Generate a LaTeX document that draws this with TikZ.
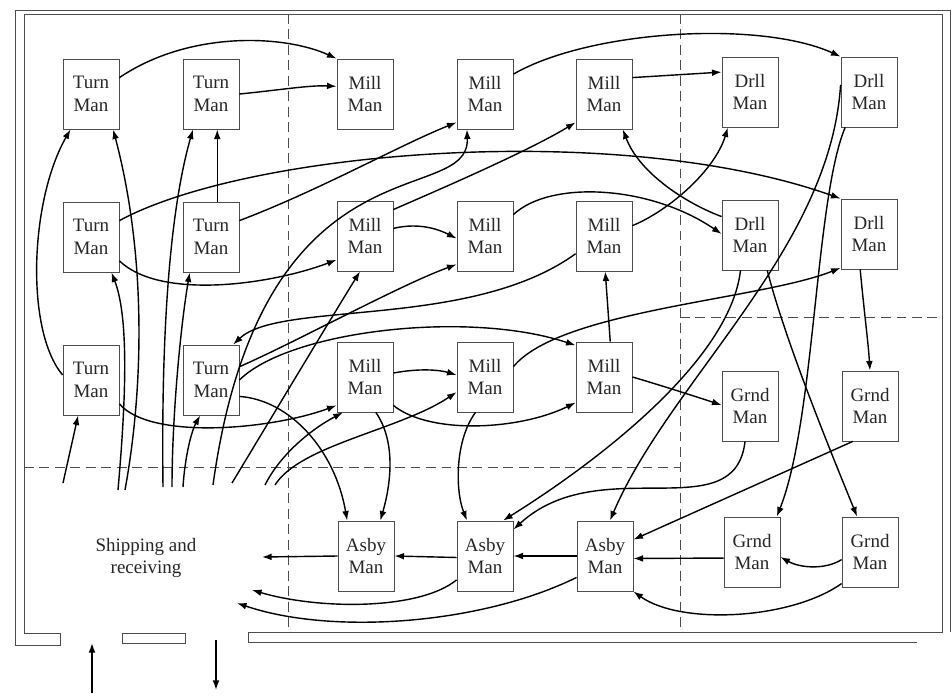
\documentclass[tikz,border=0pt]{standalone}
\usepackage{fontspec}
\setmainfont{Liberation Serif}
\usetikzlibrary{arrows.meta}

\begin{document}
\begin{tikzpicture}[
    x=0.25mm, y=-0.25mm,
    machine/.style={
      rectangle, draw=gray!60!black, line width=0.6pt,
      minimum width=14mm, minimum height=17.5mm, inner sep=0pt,
      align=center, text=black!85, font=\fontsize{13.5}{16}\selectfont
    },
    wall/.style={draw=gray!60!black, line width=0.7pt},
    zone/.style={draw=gray!60!black, line width=0.6pt, dash pattern=on 7pt off 4pt},
    flow/.style={draw, line width=1pt, -{Latex[length=2.4mm, width=1.7mm]}}
  ]
  \useasboundingbox (0,0) rectangle (952,696);

  % building walls and doors
  \draw[wall] (950,632) -- (950,10) -- (15,10) -- (15,645) -- (60,645) -- (60,633) -- (24,633)
    -- (24,14) -- (942,14) -- (942,632) -- (248,632) -- (248,642) -- (917,642);
  \draw[wall] (122,633) rectangle (185,643);

  % departments
  \draw[zone] (288,14) -- (288,632);
  \draw[zone] (680,14) -- (680,632);
  \draw[zone] (24,467) -- (680,467);
  \draw[zone] (680,317) -- (942,317);

  % machines
  \node[machine] (t1) at (91,94) {Turn\\Man};
  \node[machine] (t2) at (211,94) {Turn\\Man};
  \node[machine] (m1) at (365,94) {Mill\\Man};
  \node[machine] (m2) at (485,94) {Mill\\Man};
  \node[machine] (m3) at (604,94) {Mill\\Man};
  \node[machine] (d1) at (750,92) {Drll\\Man};
  \node[machine] (d2) at (869,92) {Drll\\Man};

  \node[machine] (t3) at (91,237) {Turn\\Man};
  \node[machine] (t4) at (211,237) {Turn\\Man};
  \node[machine] (m4) at (365,236) {Mill\\Man};
  \node[machine] (m5) at (485,236) {Mill\\Man};
  \node[machine] (m6) at (604,236) {Mill\\Man};
  \node[machine] (d3) at (750,235) {Drll\\Man};
  \node[machine] (d4) at (869,234) {Drll\\Man};

  \node[machine] (t5) at (91,380) {Turn\\Man};
  \node[machine] (t6) at (211,380) {Turn\\Man};
  \node[machine] (m7) at (365,377) {Mill\\Man};
  \node[machine] (m8) at (485,377) {Mill\\Man};
  \node[machine] (m9) at (604,377) {Mill\\Man};
  \node[machine] (g1) at (750,406) {Grnd\\Man};
  \node[machine] (g2) at (870,406) {Grnd\\Man};

  \node[machine] (a1) at (366,556) {Asby\\Man};
  \node[machine] (a2) at (485,556) {Asby\\Man};
  \node[machine] (a3) at (605,556) {Asby\\Man};
  \node[machine] (g3) at (752,552) {Grnd\\Man};
  \node[machine] (g4) at (870,552) {Grnd\\Man};

  \node[align=center, text=black!85, font=\fontsize{13.5}{16}\selectfont] (ship) at (146,558) {Shipping and\\receiving};

  % free ends in shipping and at the doors
  \coordinate (sh_t5) at (63,483);
  \coordinate (sh_t3) at (118,490);
  \coordinate (sh_t1) at (125,490);
  \coordinate (sh_t2) at (163,487);
  \coordinate (sh_t4) at (172,487);
  \coordinate (sh_t6) at (183,487);
  \coordinate (sh_m2) at (213,485);
  \coordinate (sh_m4) at (232,483);
  \coordinate (sh_m7) at (265,485);
  \coordinate (sh_m8) at (275,485);
  \coordinate (in_a1) at (262,557);
  \coordinate (in_a2) at (252,590);
  \coordinate (in_a3) at (237,603);
  \coordinate (door_in) at (92,693);
  \coordinate (door_in_tip) at (92,643);
  \coordinate (door_out) at (216,640);
  \coordinate (door_out_tip) at (216,690);

  % from shipping
  \draw[flow] (sh_t5) -- (t5.-110);
  \draw[flow] (sh_t3) .. controls (125,410) and (130,320) .. (t3.-60);
  \draw[flow] (sh_t1) .. controls (145,380) and (145,250) .. (t1.-58);
  \draw[flow] (sh_t2) .. controls (161,330) and (170,210) .. (t2.-117);
  \draw[flow] (sh_t4) .. controls (172,420) and (180,330) .. (t4.-121);
  \draw[flow] (sh_t6) .. controls (185,455) and (192,430) .. (t6.-107);
  \draw[flow] (sh_m2) .. controls (262,130) and (470,210) .. (m2.-117);
  \draw[flow] (sh_m4) .. controls (270,420) and (330,320) .. (m4.-98);
  \draw[flow] (sh_m7) .. controls (280,455) and (310,430) .. (m7.-122);
  \draw[flow] (sh_m8) .. controls (300,445) and (400,430) .. (m8.208);

  % turning
  \draw[flow] (t1.30) .. controls (190,30) and (285,35) .. (m1.north west);
  \draw[flow] (t2.east) .. controls (280,90) and (310,85) .. (m1.165);
  \draw[flow] (t3.30) .. controls (250,150) and (620,120) .. (d4.north west);
  \draw[flow] (t3.-40) .. controls (160,300) and (270,285) .. (m4.220);
  \draw[flow] (t4.30) .. controls (320,190) and (400,145) .. (m2.225);
  \draw[flow] (t4.80) -- (t2.-80);
  \draw[flow] (t5.170) .. controls (25,330) and (30,200) .. (t1.240);
  \draw[flow] (t5.-40) .. controls (150,440) and (270,430) .. (m7.225);
  \draw[flow] (t6.25) .. controls (300,340) and (400,285) .. (m5.225);
  \draw[flow] (t6.0) .. controls (290,330) and (470,310) .. (m9.132);
  \draw[flow] (t6.-30) .. controls (290,400) and (335,450) .. (a1.118);

  % milling
  \draw[flow] (m2.35) .. controls (590,30) and (760,20) .. (d2.north west);
  \draw[flow] (m3.30) -- (d1.145);
  \draw[flow] (m4.15) .. controls (420,222) and (440,230) .. (m5.185);
  \draw[flow] (m4.43) .. controls (450,185) and (530,150) .. (m3.225);
  \draw[flow] (m5.37) .. controls (550,180) and (650,185) .. (d3.178);
  \draw[flow] (m6.20) .. controls (670,210) and (715,170) .. (d1.-122);
  \draw[flow] (m6.212) .. controls (470,330) and (280,300) .. (t6.58);
  \draw[flow] (m7.8) .. controls (420,368) and (440,370) .. (m8.176);
  \draw[flow] (m7.-45) .. controls (430,435) and (520,430) .. (m9.222);
  \draw[flow] (m7.-73) .. controls (395,440) and (392,480) .. (a1.68);
  \draw[flow] (m8.-105) .. controls (455,440) and (455,490) .. (a2.117);
  \draw[flow] (m8.20) .. controls (560,310) and (760,300) .. (d4.230);
  \draw[flow] (m9.80) -- (m6.-88);
  \draw[flow] (m9.0) .. controls (660,385) and (700,398) .. (g1.178);

  % drilling
  \draw[flow] (d3.147) .. controls (690,205) and (640,175) .. (m3.-62);
  \draw[flow] (d3.-105) .. controls (730,360) and (600,460) .. (a2.63);
  \draw[flow] (d3.-64) .. controls (785,340) and (830,450) .. (g4.110);
  \draw[flow] (d2.-124) .. controls (815,200) and (815,420) .. (g3.55);
  \draw[flow] (d2.166) .. controls (830,250) and (670,380) .. (a3.82);
  \draw[flow] (d4.-104) .. controls (865,320) and (868,340) .. (g2.north);

  % grinding and assembly
  \draw[flow] (g1.-98) .. controls (735,530) and (600,450) .. (a2.43);
  \draw[flow] (g2.-116) -- (a3.30);
  \draw[flow] (g3.-168) -- (a3.-5);
  \draw[flow] (g4.-165) .. controls (825,570) and (800,568) .. (g3.-10);
  \draw[flow] (g4.-132) .. controls (790,620) and (680,625) .. (a3.south east);
  \draw[flow] (a3.180) -- (a2.0);
  \draw[flow] (a2.183) -- (a1.0);
  \draw[flow] (a1.180) -- (in_a1);
  \draw[flow] (a2.-140) .. controls (420,610) and (320,610) .. (in_a2);
  \draw[flow] (a3.-143) .. controls (480,625) and (330,635) .. (in_a3);

  % doors
  \draw[flow] (door_in) -- (door_in_tip);
  \draw[flow] (door_out) -- (door_out_tip);
\end{tikzpicture}
\end{document}
